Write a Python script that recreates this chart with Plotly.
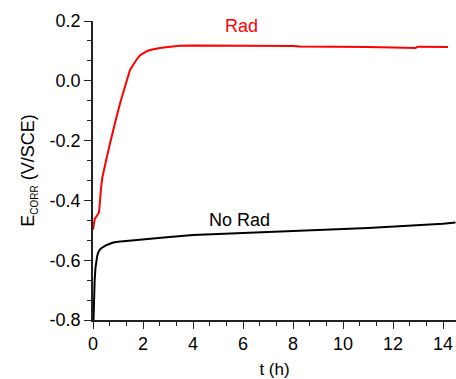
import plotly.graph_objects as go

# Rad series (t in hours, E in V/SCE)
t_rad = [0.0, 0.03, 0.07, 0.15, 0.23, 0.25, 0.27, 0.32, 0.37, 0.41, 0.5, 0.68, 0.88, 0.95, 1.1, 1.21,
         1.35, 1.48, 1.62, 1.75, 1.88, 2.0, 2.15, 2.28, 2.5, 2.68, 3.0, 3.48, 4.0, 4.28, 5.0, 6.0,
         7.0, 8.0, 8.28, 9.0, 10.0, 11.0, 11.5, 12.28, 12.9, 13.0, 13.5, 14.0, 14.2]
e_rad = [-0.498, -0.475, -0.462, -0.452, -0.442, -0.432, -0.405, -0.36, -0.325, -0.305, -0.275, -0.21,
         -0.135, -0.118, -0.07, -0.035, 0.0, 0.036, 0.057, 0.072, 0.085, 0.092, 0.099, 0.103, 0.107,
         0.110, 0.113, 0.117, 0.118, 0.118, 0.118, 0.117, 0.117, 0.116, 0.115, 0.115, 0.114, 0.113,
         0.112, 0.110, 0.110, 0.114, 0.114, 0.113, 0.113]

# No Rad series
t_norad = [0.02, 0.03, 0.05, 0.067, 0.1, 0.13, 0.17, 0.2, 0.26, 0.33, 0.45, 0.55, 0.68, 0.81, 1.0,
           1.35, 1.75, 2.15, 2.95, 4.0, 5.0, 6.0, 7.0, 8.28, 9.0, 10.0, 11.0, 12.0, 13.0, 14.0, 14.5]
e_norad = [-0.80, -0.75, -0.70, -0.665, -0.625, -0.60, -0.585, -0.576, -0.566, -0.56, -0.553, -0.549,
           -0.545, -0.541, -0.538, -0.535, -0.532, -0.529, -0.523, -0.516, -0.513, -0.509, -0.506,
           -0.502, -0.499, -0.496, -0.492, -0.488, -0.483, -0.478, -0.474]

x_ticks = [0, 2, 4, 6, 8, 10, 12, 14]
y_ticks = [-0.8, -0.6, -0.4, -0.2, 0.0, 0.2]
y_labels = ["-0.8", "-0.6", "-0.4", "-0.2", "0.0", "0.2"]

font_family = "Arial, Liberation Sans, sans-serif"

fig = go.Figure()
fig.add_trace(go.Scatter(x=t_rad, y=e_rad, mode="lines", line=dict(color="#ff0000", width=2),
                         showlegend=False, cliponaxis=False))
fig.add_trace(go.Scatter(x=t_norad, y=e_norad, mode="lines", line=dict(color="#000000", width=2),
                         showlegend=False, cliponaxis=False))

fig.add_annotation(x=5.92, y=0.183, text="Rad", showarrow=False,
                   font=dict(color="#ff0000", size=18, family=font_family))
fig.add_annotation(x=5.84, y=-0.466, text="No Rad", showarrow=False,
                   font=dict(color="#000000", size=18, family=font_family))

fig.update_layout(
    width=456, height=379,
    margin=dict(l=93, r=0, t=21, b=59, autoexpand=False),
    paper_bgcolor="white", plot_bgcolor="white",
    font=dict(family=font_family, size=18, color="#000000"),
    xaxis=dict(range=[0, 14.52], tickvals=x_ticks, ticks="outside", ticklen=7, tickwidth=1.2,
               tickcolor="#222", showline=True, linecolor="#222", linewidth=1.5, showgrid=False,
               zeroline=False, tickfont=dict(size=18), automargin=False,
               minor=dict(dtick=2/3, tick0=0, ticks="outside", ticklen=4, tickcolor="#222", showgrid=False),
               title=dict(text="t (h)", font=dict(size=17), standoff=12)),
    yaxis=dict(range=[-0.8, 0.2], tickvals=y_ticks, ticktext=y_labels, ticks="outside", ticklen=7,
               tickwidth=1.2, tickcolor="#222", showline=True, linecolor="#222", linewidth=1.5,
               showgrid=False, zeroline=False, tickfont=dict(size=18), automargin=False,
               minor=dict(dtick=0.2/3, tick0=0.2, ticks="outside", ticklen=4, tickcolor="#222", showgrid=False),
               title=dict(text="E<sub><span style='font-size:10px'>CORR</span></sub> (V/SCE)",
                          font=dict(size=18), standoff=10)),
)

fig.write_html("out.html", config={"displayModeBar": False},
               post_script="document.body.style.margin='0';document.body.style.overflow='hidden';")
